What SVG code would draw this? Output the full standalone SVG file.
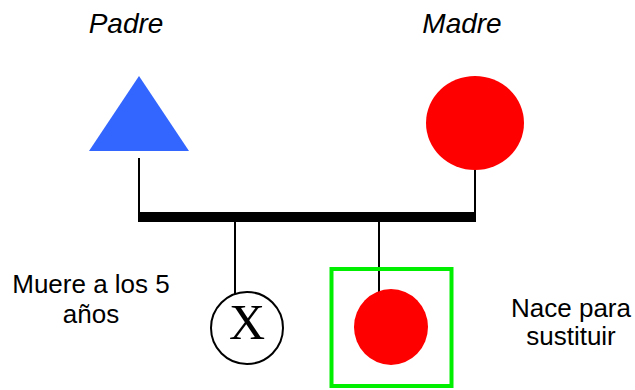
<svg xmlns="http://www.w3.org/2000/svg" width="635" height="390" viewBox="0 0 635 390">
<style>
.lbl{font-family:"Liberation Sans",Arial,sans-serif;font-size:26px;fill:#000;text-anchor:middle}
.it{font-style:italic;font-size:28px}
.ln{stroke:#000;stroke-width:2;fill:none}
</style>
<rect width="635" height="390" fill="#fff"/>
<g id="connectors">
<line class="ln" x1="139" y1="158" x2="139" y2="214"/>
<line class="ln" x1="475" y1="170" x2="475" y2="214"/>
<line x1="138" y1="217" x2="476" y2="217" stroke="#000" stroke-width="10"/>
<line class="ln" x1="235" y1="222" x2="235" y2="294"/>
<line class="ln" x1="379" y1="222" x2="379" y2="292"/>
</g>
<g id="padre">
<text class="lbl it" x="126" y="33">Padre</text>
<polygon points="139,76 89,151 189,151" fill="#3366ff"/>
</g>
<g id="madre">
<text class="lbl it" x="462" y="33">Madre</text>
<ellipse cx="475" cy="123" rx="49" ry="47" fill="#ff0000"/>
</g>
<g id="hijo-fallecido">
<circle cx="247" cy="328" r="36" fill="#fff" stroke="#000" stroke-width="2"/>
<text x="247" y="339" font-family="Liberation Serif,'Times New Roman',serif" font-size="50" text-anchor="middle">X</text>
<text class="lbl" x="91" y="293">Muere a los 5</text>
<text class="lbl" x="91" y="323">años</text>
</g>
<g id="hija-sustituta">
<rect x="331.5" y="269" width="120" height="117" fill="none" stroke="#00ee00" stroke-width="4"/>
<ellipse cx="391" cy="327" rx="37" ry="38" fill="#ff0000"/>
<text class="lbl" x="571" y="317">Nace para</text>
<text class="lbl" x="571" y="345">sustituir</text>
</g>
</svg>
